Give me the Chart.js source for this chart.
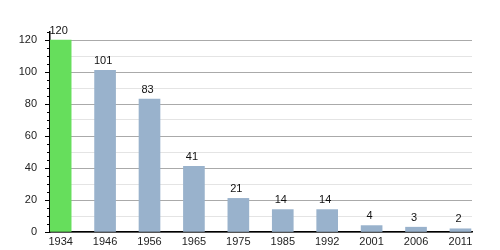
<!DOCTYPE html>
<html>
<head>
<meta charset="utf-8">
<script src="https://cdn.jsdelivr.net/npm/chart.js@4"></script>
<style>
  body { margin: 0; background: #fff; }
  #wrap { width: 500px; height: 250px; }
</style>
</head>
<body>
<div id="wrap"><canvas id="ch1" width="500" height="250"></canvas></div>
<script>
// population by census year
var years = ['1934', '1946', '1956', '1965', '1975', '1985', '1992', '2001', '2006', '2011'];
var population = [120, 101, 83, 41, 21, 14, 14, 4, 3, 2];
var yTicks = [0, 20, 40, 60, 80, 100, 120];

var green = '#66de5c';
var blue = '#99b2cc';
var font = { family: 'Liberation Sans, Arial, sans-serif', size: 11 };

// minor y ticks + value labels over bars
var extras = {
  id: 'extras',
  afterDraw: function(chart) {
    var c = chart.ctx;
    var y = chart.scales.y;
    c.save();
    c.strokeStyle = '#000';
    c.lineWidth = 1;
    for (var v = 0; v <= 125; v += 5) {
      if (yTicks.indexOf(v) >= 0) continue;
      var py = Math.round(y.getPixelForValue(v)) + 0.5;
      c.beginPath();
      c.moveTo(y.right - 3, py);
      c.lineTo(y.right, py);
      c.stroke();
    }
    c.fillStyle = '#111';
    c.font = '11px ' + font.family;
    c.textAlign = 'center';
    c.textBaseline = 'bottom';
    chart.getDatasetMeta(0).data.forEach(function(bar, i) {
      c.fillText(population[i], bar.x - 2, bar.y - 4);
    });
    c.restore();
  }
};

var ctx = document.getElementById('ch1').getContext('2d');
var myChart = new Chart(ctx, {
  type: 'bar',
  data: {
    datasets: [{
      data: population.map(function(v, i) { return { x: i, y: v }; }),
      backgroundColor: population.map(function(v, i) { return i == 0 ? green : blue; }),
      barThickness: 21,
      borderWidth: 0
    }]
  },
  options: {
    responsive: false,
    animation: false,
    layout: { padding: { top: 32, right: 28, left: 0, bottom: 0 } },
    plugins: { legend: { display: false }, tooltip: { enabled: false } },
    scales: {
      x: {
        type: 'linear',
        offset: false,
        min: -0.24,
        max: 9.26,
        afterBuildTicks: function(scale) {
          scale.ticks = years.map(function(y, i) { return { value: i }; });
        },
        afterFit: function(scale) { scale.height = 18; },
        grid: { display: false, drawTicks: false, offset: false },
        border: { color: '#000', width: 1.5 },
        ticks: {
          autoSkip: false,
          maxRotation: 0,
          padding: 3,
          color: '#222',
          font: font,
          callback: function(v) { return years[v]; }
        }
      },
      y: {
        min: 0,
        max: 125,
        afterFit: function(scale) { scale.width = 50; },
        border: { color: '#000', width: 1.5 },
        grid: {
          color: function(c) { return c.tick && c.tick.value % 20 == 0 ? '#aaaaaa' : '#e4e4e4'; },
          tickColor: function(c) { return c.tick && c.tick.value % 20 == 0 ? '#000' : 'rgba(0,0,0,0)'; },
          tickLength: 5
        },
        ticks: {
          stepSize: 5,
          padding: 8,
          color: '#222',
          font: font,
          callback: function(v) { return yTicks.indexOf(v) >= 0 ? v : ''; }
        }
      }
    }
  },
  plugins: [extras]
});
</script>
</body>
</html>
